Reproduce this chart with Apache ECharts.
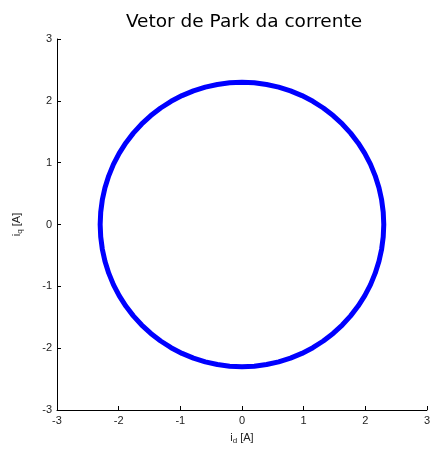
<!DOCTYPE html>
<html>
<head>
<meta charset="utf-8">
<script src="https://cdn.jsdelivr.net/npm/echarts@6/dist/echarts.min.js"></script>
<style>
  html, body { margin: 0; padding: 0; background: #fff; }
  #chart { width: 433px; height: 455px; }
</style>
</head>
<body>
<div id="chart"></div>
<script>
// Park vector trajectory of the stator current (i_d, i_q), in amperes
const id = [
  2.300, 2.291, 2.265, 2.222, 2.161, 2.085, 1.992, 1.884, 1.762, 1.626, 1.478, 1.319, 1.150, 0.972, 0.787, 0.595, 0.399, 0.200,
  0.000, -0.200, -0.399, -0.595, -0.787, -0.972, -1.150, -1.319, -1.478, -1.626, -1.762, -1.884, -1.992, -2.085, -2.161, -2.222, -2.265, -2.291,
  -2.300, -2.291, -2.265, -2.222, -2.161, -2.085, -1.992, -1.884, -1.762, -1.626, -1.478, -1.319, -1.150, -0.972, -0.787, -0.595, -0.399, -0.200,
  0.000, 0.200, 0.399, 0.595, 0.787, 0.972, 1.150, 1.319, 1.478, 1.626, 1.762, 1.884, 1.992, 2.085, 2.161, 2.222, 2.265, 2.291,
  2.300
];
const iq = [
  0.000, 0.200, 0.399, 0.595, 0.787, 0.972, 1.150, 1.319, 1.478, 1.626, 1.762, 1.884, 1.992, 2.085, 2.161, 2.222, 2.265, 2.291,
  2.300, 2.291, 2.265, 2.222, 2.161, 2.085, 1.992, 1.884, 1.762, 1.626, 1.478, 1.319, 1.150, 0.972, 0.787, 0.595, 0.399, 0.200,
  0.000, -0.200, -0.399, -0.595, -0.787, -0.972, -1.150, -1.319, -1.478, -1.626, -1.762, -1.884, -1.992, -2.085, -2.161, -2.222, -2.265, -2.291,
  -2.300, -2.291, -2.265, -2.222, -2.161, -2.085, -1.992, -1.884, -1.762, -1.626, -1.478, -1.319, -1.150, -0.972, -0.787, -0.595, -0.399, -0.200,
  0.000
];
const axisTicks = [-3, -2, -1, 0, 1, 2, 3];

const points = id.map((d, k) => [d, iq[k]]);

const chart = echarts.init(document.getElementById('chart'), null, { renderer: 'canvas' });

const axisCommon = {
  type: 'value',
  min: axisTicks[0],
  max: axisTicks[axisTicks.length - 1],
  interval: 1,
  splitLine: { show: false },
  axisLine: { show: true, onZero: false, lineStyle: { color: '#000', width: 1 } },
  axisTick: { show: true, inside: true, length: 4, lineStyle: { color: '#000' } },
  axisLabel: { color: '#222', fontFamily: 'Liberation Sans', fontSize: 11, margin: 5 },
  nameLocation: 'middle',
  nameTextStyle: {
    color: '#222', fontFamily: 'Liberation Sans', fontSize: 11,
    rich: {
      m: { fontFamily: 'Liberation Sans', fontSize: 11, color: '#222' },
      s: { fontFamily: 'Liberation Sans', fontSize: 8, color: '#222', verticalAlign: 'bottom', padding: [6, 0, 0, 0] }
    }
  }
};

chart.setOption({
  animation: false,
  backgroundColor: '#fff',
  title: {
    text: 'Vetor de Park da corrente',
    left: 239,
    top: 8,
    textAlign: 'center',
    textStyle: { fontFamily: 'DejaVu Sans', fontSize: 18.5, fontWeight: 'normal', color: '#000' }
  },
  grid: { left: 57, right: 6, top: 39, bottom: 45, containLabel: false },
  xAxis: Object.assign({}, axisCommon, {
    name: '{m|i}{s|d}{m| [A]}',
    nameGap: 21
  }),
  yAxis: Object.assign({}, axisCommon, {
    name: '{m|i}{s|q}{m| [A]}',
    nameGap: 33,
    nameRotate: 90
  }),
  series: [{
    type: 'line',
    data: points,
    smooth: false,
    sampling: false,
    showSymbol: false,
    lineStyle: { color: '#0000ff', width: 5, join: 'round' },
    clip: false
  }]
});
</script>
</body>
</html>
